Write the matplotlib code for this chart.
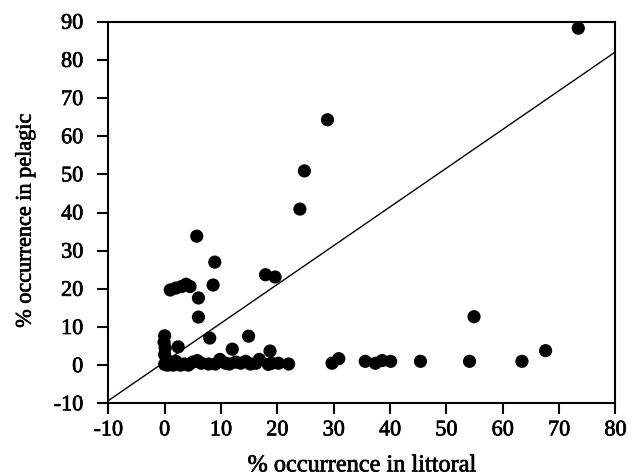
import matplotlib
matplotlib.use("Agg")
import matplotlib.pyplot as plt
import matplotlib.patheffects as pe

plt.rcParams['font.family'] = ['Liberation Serif', 'DejaVu Serif']
plt.rcParams['axes.unicode_minus'] = False

# Data: % occurrence in littoral (x) vs % occurrence in pelagic (y)
littoral = [
    73.4, 28.9, 24.8, 24.0, 5.7, 8.9, 8.6, 17.9, 19.6, 6.0, 6.0,
    1.0, 2.0, 3.0, 3.8, 4.5,
    8.0, 14.9, 12.0, 18.7,
    54.9, 67.6, 63.4, 54.1, 45.4, 40.1, 38.6, 37.4, 35.6, 30.9, 29.7,
    0.0, -0.1, 0.1, 0.0, 0.3, 2.4,
    0.0, 0.5, 1.0, 1.5, 2.0, 2.8, 3.5, 4.2, 5.0, 5.8, 6.5, 7.8, 9.0, 9.8,
    10.8, 11.5, 12.6, 13.5, 14.4, 15.2, 16.2, 16.8, 18.4, 19.0, 20.2, 22.0,
]
pelagic = [
    88.3, 64.3, 50.9, 40.9, 33.8, 27.0, 21.0, 23.7, 23.1, 17.6, 12.6,
    19.7, 20.2, 20.6, 21.2, 20.6,
    7.1, 7.6, 4.2, 3.7,
    12.7, 3.8, 1.0, 1.0, 1.0, 1.0, 1.2, 0.5, 1.0, 1.7, 0.5,
    7.7, 6.0, 4.5, 2.8, 1.5, 4.8,
    0.2, 0.0, 0.5, 0.0, 1.0, 0.0, 0.3, 0.0, 0.8, 1.2, 0.5, 0.3, 0.3, 1.5,
    0.5, 0.3, 0.8, 0.5, 1.0, 0.3, 0.5, 1.5, 0.2, 0.5, 0.5, 0.3,
]

# Reference line
line_x = [-10, 80]
line_y = [-9.3, 82.1]

x_ticks = [-10, 0, 10, 20, 30, 40, 50, 60, 70, 80]
y_ticks = [-10, 0, 10, 20, 30, 40, 50, 60, 70, 80, 90]

fig = plt.figure(figsize=(6.34, 4.76), dpi=100)
ax = fig.add_axes([0.1708, 0.1527, 0.800, 0.8017])

ax.plot(line_x, line_y, color='black', linewidth=1.0, zorder=2)
ax.scatter(littoral, pelagic, s=90, color='black', edgecolors='none',
           zorder=3, clip_on=False)

ax.set_xlim(-10, 80)
ax.set_ylim(-10, 90)
ax.set_xticks(x_ticks)
ax.set_yticks(y_ticks)

for sp in ax.spines.values():
    sp.set_linewidth(1.5)
    sp.set_color('black')

ax.tick_params(axis='both', direction='out', length=8, width=1.5,
               labelsize=16, colors='black')
ax.tick_params(axis='x', pad=5)
ax.tick_params(axis='y', pad=10)

ax.set_xlabel('% occurrence in littoral', fontsize=17.5, va='center')
ax.xaxis.set_label_coords(0.5, -0.164)
ax.set_ylabel('% occurrence in pelagic', fontsize=16, va='center', ha='center')
ax.yaxis.set_label_coords(-0.162, 0.479)

stroke = [pe.withStroke(linewidth=0.5, foreground='black')]
for t in ax.get_xticklabels() + ax.get_yticklabels() + [ax.xaxis.label, ax.yaxis.label]:
    t.set_path_effects(stroke)

fig.savefig('out.png', dpi=100)
